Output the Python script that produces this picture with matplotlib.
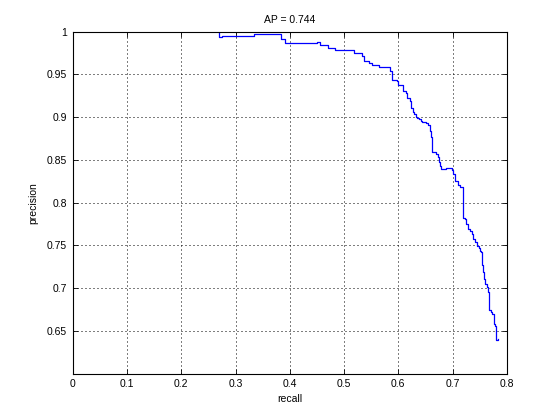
import matplotlib
matplotlib.use("Agg")
import matplotlib.pyplot as plt

recall = [0.2690, 0.2699, 0.2758, 0.3336, 0.3834, 0.3908, 0.4508, 0.4554, 0.4707, 0.4840,
          0.4905, 0.5187, 0.5324, 0.5361, 0.5453, 0.5509, 0.5649, 0.5815, 0.5846, 0.5878,
          0.5970, 0.5988, 0.6092, 0.6142, 0.6166, 0.6216, 0.6243, 0.6277, 0.6295, 0.6321,
          0.6350, 0.6382, 0.6413, 0.6443, 0.6511, 0.6548, 0.6585, 0.6598, 0.6613, 0.6686,
          0.6723, 0.6751, 0.6769, 0.6788, 0.6880, 0.6982, 0.7015, 0.7046, 0.7102, 0.7139,
          0.7185, 0.7190, 0.7222, 0.7249, 0.7277, 0.7314, 0.7351, 0.7382, 0.7416, 0.7452,
          0.7489, 0.7508, 0.7526, 0.7535, 0.7558, 0.7578, 0.7600, 0.7631, 0.7656, 0.7680,
          0.7705, 0.7729, 0.7757, 0.7772, 0.7790, 0.7800, 0.7831]
precision = [1.0000, 0.9934, 0.9952, 0.9971, 0.9915, 0.9868, 0.9883, 0.9841, 0.9809, 0.9778,
             0.9786, 0.9751, 0.9719, 0.9661, 0.9630, 0.9610, 0.9583, 0.9590, 0.9536, 0.9438,
             0.9426, 0.9376, 0.9300, 0.9282, 0.9224, 0.9189, 0.9107, 0.9057, 0.9037, 0.9005,
             0.8986, 0.8978, 0.8958, 0.8943, 0.8928, 0.8902, 0.8841, 0.8767, 0.8588, 0.8568,
             0.8530, 0.8471, 0.8428, 0.8399, 0.8410, 0.8387, 0.8340, 0.8256, 0.8202, 0.8179,
             0.8159, 0.7825, 0.7808, 0.7749, 0.7690, 0.7667, 0.7638, 0.7574, 0.7535, 0.7497,
             0.7470, 0.7439, 0.7418, 0.7269, 0.7187, 0.7105, 0.7047, 0.7017, 0.6953, 0.6742,
             0.6725, 0.6696, 0.6660, 0.6578, 0.6561, 0.6397, 0.6403]

xticks = [0, 0.1, 0.2, 0.3, 0.4, 0.5, 0.6, 0.7, 0.8]
xticklabels = ["0", "0.1", "0.2", "0.3", "0.4", "0.5", "0.6", "0.7", "0.8"]
yticks = [0.65, 0.7, 0.75, 0.8, 0.85, 0.9, 0.95, 1.0]
yticklabels = ["0.65", "0.7", "0.75", "0.8", "0.85", "0.9", "0.95", "1"]
title = "AP = 0.744"

plt.rcParams['font.family'] = ['Liberation Sans', 'DejaVu Sans']
fig = plt.figure(figsize=(5.6, 4.2), dpi=100)
ax = fig.add_axes([0.13, 0.11, 0.775, 0.815])
ax.plot(recall, precision, color=(0, 0, 1), lw=0.9, drawstyle='steps-post')
ax.set_xlim(0, 0.8)
ax.set_ylim(0.6, 1.0)
ax.set_xticks(xticks)
ax.set_xticklabels(xticklabels)
ax.set_yticks(yticks)
ax.set_yticklabels(yticklabels)
ax.tick_params(direction='in', length=3.5, width=0.6, labelsize=7.5, top=True, right=True, pad=4, colors='black')
ax.grid(True, color='black', linestyle=(0, (1, 3)), linewidth=0.72)
for s in ax.spines.values():
    s.set_linewidth(0.8)
ax.set_xlabel("recall", fontsize=7.5, labelpad=3)
ax.set_ylabel("precision", fontsize=7.5, labelpad=6)
ax.set_title(title, fontsize=7.5, pad=6)
fig.savefig("out.png", dpi=100)
